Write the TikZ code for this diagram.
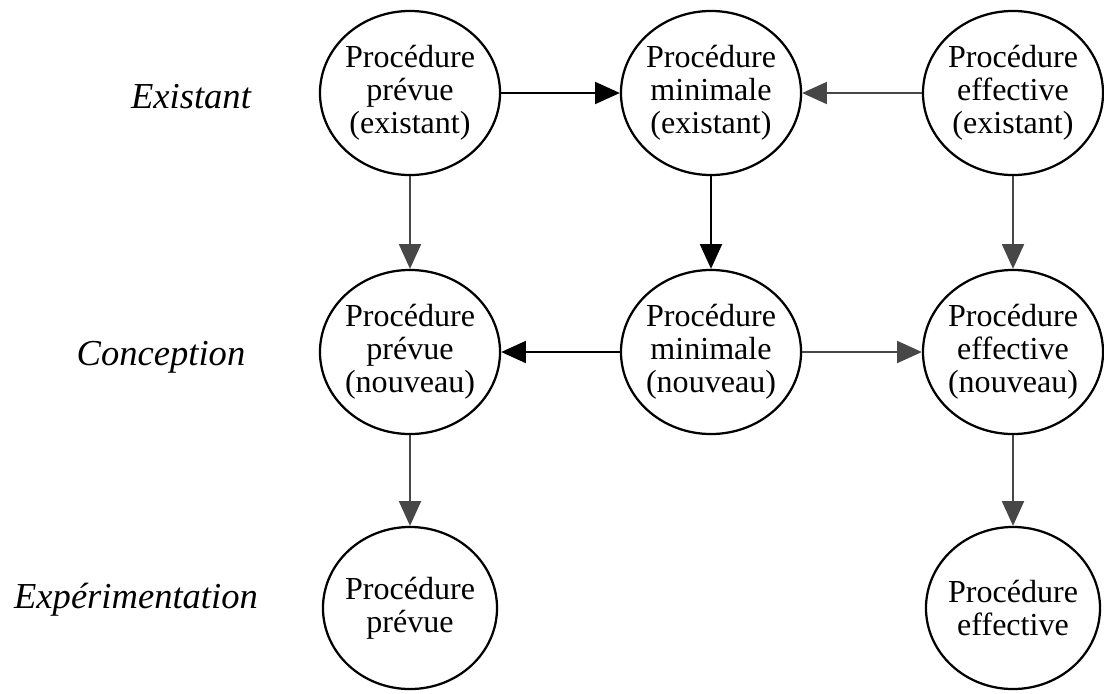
\documentclass[tikz,border=0pt]{standalone}
\usepackage{fontspec}
\setmainfont{Liberation Serif}
\usetikzlibrary{shapes.geometric,arrows.meta}

\tikzset{
  proc/.style={ellipse, draw, line width=1.6pt, minimum width=4.5cm,
    minimum height=4.1cm, inner xsep=-2mm, inner ysep=0pt, align=center,
    font=\fontsize{22.8}{23.5}\selectfont},
  procsmall/.style={proc, minimum width=4.35cm, minimum height=4.05cm},
  phase/.style={font=\fontsize{26}{30}\selectfont\itshape},
  flow/.style={-{Triangle[length=0.62cm,width=0.55cm]}, line width=1.4pt},
  flowgrey/.style={flow, draw=black!72},
}

\begin{document}
\begin{tikzpicture}[x=0.025cm,y=-0.025cm]
  \useasboundingbox (0,0) rectangle (1104,693);

  % phases
  \node[phase] (existant) at (191,97) {Existant};
  \node[phase] (conception) at (161,357) {Conception};
  \node[phase] (experim) at (136,600) {Expérimentation};

  % existant
  \node[proc] (prevE) at (410,93) {Procédure\\prévue\\(existant)};
  \node[proc] (minE) at (711,93) {Procédure\\minimale\\(existant)};
  \node[proc] (effE) at (1013,93) {Procédure\\effective\\(existant)};

  % conception
  \node[proc] (prevN) at (410,352) {Procédure\\prévue\\(nouveau)};
  \node[proc] (minN) at (711,352) {Procédure\\minimale\\(nouveau)};
  \node[proc] (effN) at (1013,352) {Procédure\\effective\\(nouveau)};

  % experimentation
  \node[procsmall] (prevX) at (410,608) {Procédure\\prévue};
  \node[procsmall] (effX) at (1013,608) {Procédure\\effective};

  \draw[flow] (prevE) -- (minE);
  \draw[flowgrey] (effE) -- (minE);
  \draw[flowgrey] (prevE) -- (prevN);
  \draw[flow] (minE) -- (minN);
  \draw[flowgrey] (effE) -- (effN);
  \draw[flow] (minN) -- (prevN);
  \draw[flowgrey] (minN) -- (effN);
  \draw[flowgrey] (prevN) -- (prevX);
  \draw[flowgrey] (effN) -- (effX);
\end{tikzpicture}
\end{document}
